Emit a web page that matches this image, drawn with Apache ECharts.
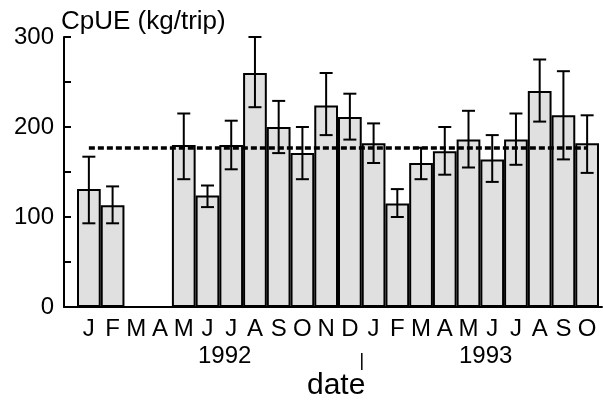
<!DOCTYPE html>
<html>
<head>
<meta charset="utf-8">
<script src="https://cdn.jsdelivr.net/npm/echarts@6/dist/echarts.min.js"></script>
<style>
html,body{margin:0;padding:0;background:#fff;}
#chart{width:603px;height:403px;}
</style>
</head>
<body>
<div id="chart"></div>
<script>
// ---- data ----
var categories = ['1992-01','1992-02','1992-03','1992-04','1992-05','1992-06','1992-07','1992-08','1992-09','1992-10','1992-11','1992-12',
                  '1993-01','1993-02','1993-03','1993-04','1993-05','1993-06','1993-07','1993-08','1993-09','1993-10'];
var monthLabels = ['J','F','M','A','M','J','J','A','S','O','N','D','J','F','M','A','M','J','J','A','S','O'];
var cpue      = [131, 113, null, null, 180, 124, 180, 260, 200, 171, 224, 211, 182, 115, 160, 173, 186, 164, 186, 240, 213, 182];
var errHigh   = [167, 134, null, null, 215, 135, 207, 300, 229, 200, 260, 237, 204, 131, 177, 200, 218, 191, 215, 275, 262, 213];
var errLow    = [ 93,  93, null, null, 142, 111, 153, 222, 171, 142, 191, 186, 160, 100, 142, 147, 155, 139, 158, 206, 164, 149];
var meanCpue  = 177;
var yTicks    = [0, 100, 200, 300];
var yearLabels = ['1992', '1993'];

var FONT = '"Liberation Sans", Arial, Helvetica, sans-serif';

var barData = cpue.map(function (v) { return v == null ? '-' : v; });
var errData = [];
for (var i = 0; i < categories.length; i++) {
  if (errLow[i] != null) errData.push([i, errLow[i], errHigh[i]]);
}

var chart = echarts.init(document.getElementById('chart'), null, {renderer: 'canvas'});

var option = {
  backgroundColor: '#ffffff',
  animation: false,
  title: {
    text: 'CpUE (kg/trip)',
    left: 61, top: 9,
    padding: 0,
    textStyle: {fontFamily: FONT, fontSize: 26, fontWeight: 'normal', color: '#000'}
  },
  grid: [
    {left: 64, right: 1, top: 37, bottom: 96},
    {left: 77, right: 4, top: 37, bottom: 96}
  ],
  xAxis: [
    {
      gridIndex: 0, type: 'value', min: 0, max: 1,
      axisLine: {show: true, onZero: false, lineStyle: {color: '#000', width: 2}},
      axisTick: {show: false}, axisLabel: {show: false}, splitLine: {show: false}
    },
    {
      gridIndex: 1, type: 'category', data: categories, boundaryGap: true,
      axisLine: {show: false}, axisTick: {show: false}, splitLine: {show: false},
      axisLabel: {
        interval: 0, margin: 10,
        fontFamily: FONT, fontSize: 24, color: '#000',
        formatter: function (v, idx) { return monthLabels[idx]; }
      }
    }
  ],
  yAxis: [
    {
      gridIndex: 0, type: 'value', min: 0, max: 300, interval: 50,
      axisLine: {show: true, lineStyle: {color: '#000', width: 2}},
      axisTick: {show: true, inside: true, length: 7, lineStyle: {color: '#000', width: 2}},
      splitLine: {show: false},
      axisLabel: {
        margin: 10, fontFamily: FONT, fontSize: 24, color: '#000',
        padding: [6, 0, 0, 0],
        formatter: function (v) { return yTicks.indexOf(v) >= 0 ? String(v) : ''; }
      }
    },
    {
      gridIndex: 1, type: 'value', min: 0, max: 300, show: false
    }
  ],
  series: [
    {
      type: 'bar', xAxisIndex: 1, yAxisIndex: 1,
      data: barData,
      barCategoryGap: 0,
      itemStyle: {color: '#e0e0e0', borderColor: '#000', borderWidth: 2},
      emphasis: {disabled: true},
      markLine: {
        silent: true, symbol: 'none',
        label: {show: false},
        lineStyle: {color: '#000', width: 3.5, type: [6, 3]},
        data: [[{coord: [0, meanCpue]}, {coord: [categories.length - 1, meanCpue]}]]
      },
      z: 2
    },
    {
      type: 'custom', xAxisIndex: 1, yAxisIndex: 1,
      data: errData,
      z: 5,
      renderItem: function (params, api) {
        var x = api.value(0);
        var lo = api.coord([x, api.value(1)]);
        var hi = api.coord([x, api.value(2)]);
        var hw = 6.5;
        var st = {stroke: '#000', lineWidth: 2};
        return {
          type: 'group',
          children: [
            {type: 'line', shape: {x1: lo[0], y1: lo[1], x2: hi[0], y2: hi[1]}, style: st},
            {type: 'line', shape: {x1: lo[0] - hw, y1: lo[1], x2: lo[0] + hw, y2: lo[1]}, style: st},
            {type: 'line', shape: {x1: hi[0] - hw, y1: hi[1], x2: hi[0] + hw, y2: hi[1]}, style: st}
          ]
        };
      }
    }
  ],
  graphic: [
    {type: 'text', left: 198, top: 344, style: {text: yearLabels[0], font: '24px ' + FONT, fill: '#000'}},
    {type: 'text', left: 459, top: 344, style: {text: yearLabels[1], font: '24px ' + FONT, fill: '#000'}},
    {type: 'line', shape: {x1: 361.8, y1: 353, x2: 361.8, y2: 370}, style: {stroke: '#000', lineWidth: 1.5}},
    {type: 'text', left: 307, top: 371, style: {text: 'date', font: '30px ' + FONT, fill: '#000'}}
  ]
};
chart.setOption(option);
</script>
</body>
</html>
